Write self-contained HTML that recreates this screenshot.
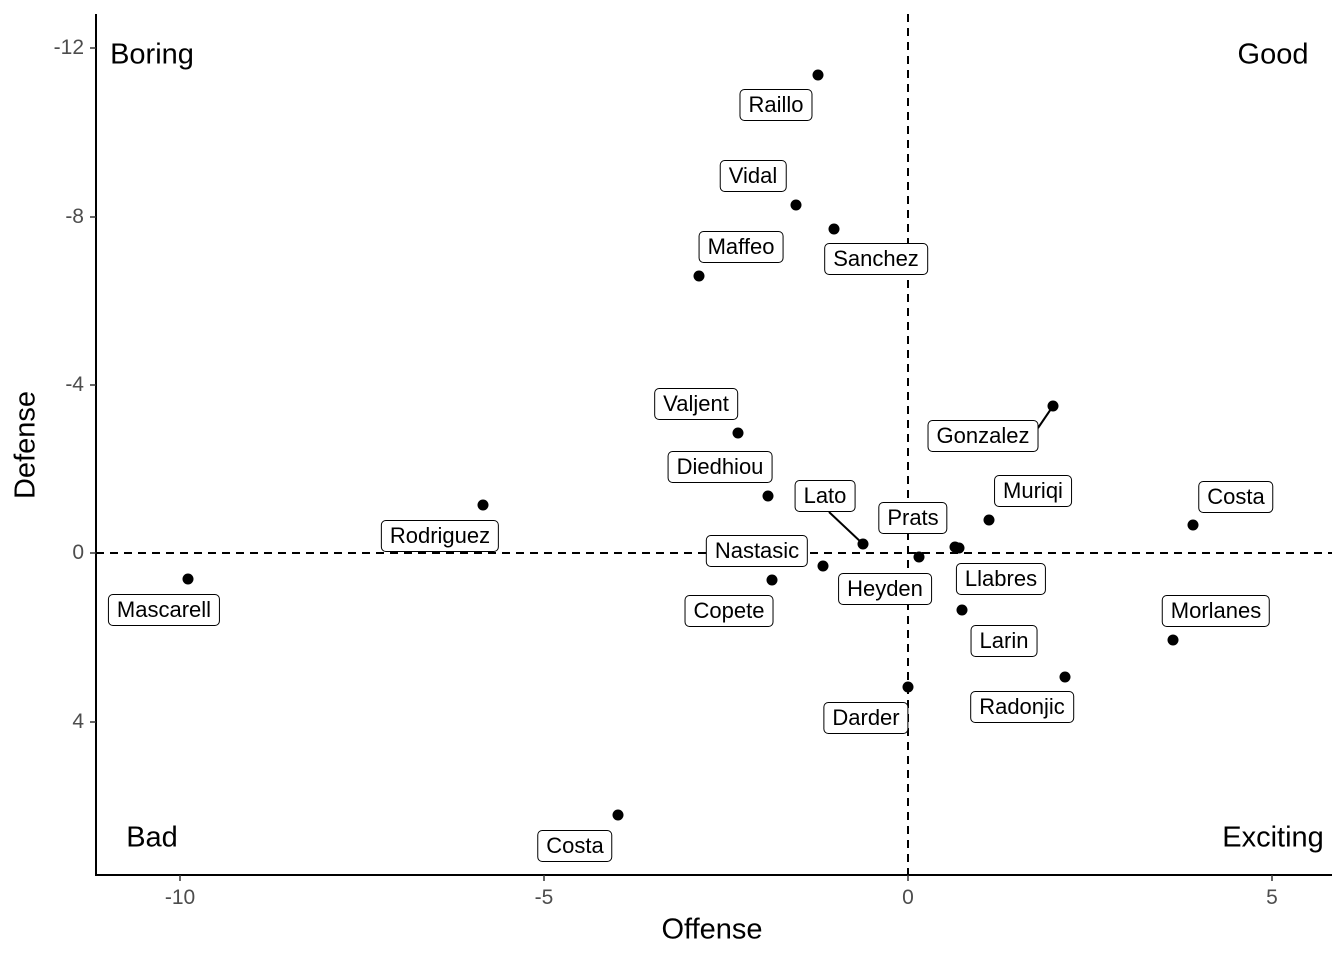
<!DOCTYPE html>
<html><head><style>
body{margin:0;width:1344px;height:960px;background:#fff;position:relative;font-family:"Liberation Sans",sans-serif;overflow:hidden}
.l{position:absolute;transform:translate(-50%,-50%);background:#fff;border:1.3px solid #000;border-radius:5px;padding:3px 8px;font-size:22px;line-height:24px;white-space:nowrap;color:#000}
.c{position:absolute;transform:translate(-50%,-50%);font-size:29px;white-space:nowrap}
.t{position:absolute;font-size:21px;color:#4d4d4d;transform:translate(-50%,-50%)}
.ty{position:absolute;font-size:21px;color:#4d4d4d;right:1260px;transform:translateY(-50%)}
</style></head><body>
<svg width="1344" height="960" style="position:absolute;left:0;top:0">
<line x1="96" y1="14" x2="96" y2="875" stroke="#000" stroke-width="2"/>
<line x1="95" y1="875" x2="1332" y2="875" stroke="#000" stroke-width="2"/>
<g stroke="#333" stroke-width="1.5">
<line x1="90" y1="48" x2="96" y2="48"/><line x1="90" y1="217" x2="96" y2="217"/><line x1="90" y1="385" x2="96" y2="385"/><line x1="90" y1="553" x2="96" y2="553"/><line x1="90" y1="722" x2="96" y2="722"/>
<line x1="180" y1="875" x2="180" y2="881"/><line x1="544" y1="875" x2="544" y2="881"/><line x1="908" y1="875" x2="908" y2="881"/><line x1="1272" y1="875" x2="1272" y2="881"/>
</g>
<line x1="908" y1="14" x2="908" y2="875" stroke="#000" stroke-width="2" stroke-dasharray="8,6"/>
<line x1="96" y1="553" x2="1332" y2="553" stroke="#000" stroke-width="2" stroke-dasharray="8,6"/>
<line x1="1053" y1="406" x2="1038" y2="428" stroke="#000" stroke-width="2"/>
<line x1="829" y1="512" x2="863" y2="544" stroke="#000" stroke-width="2"/>
<g fill="#000">
<circle cx="818" cy="75" r="5.5"/><circle cx="796" cy="205" r="5.5"/><circle cx="834" cy="229" r="5.5"/><circle cx="699" cy="276" r="5.5"/>
<circle cx="738" cy="433" r="5.5"/><circle cx="1053" cy="406" r="5.5"/><circle cx="768" cy="496" r="5.5"/><circle cx="863" cy="544" r="5.5"/>
<circle cx="919" cy="557" r="5.5"/><circle cx="955" cy="547" r="5.5"/><circle cx="959" cy="548" r="5.5"/><circle cx="989" cy="520" r="5.5"/>
<circle cx="1193" cy="525" r="5.5"/><circle cx="483" cy="505" r="5.5"/><circle cx="823" cy="566" r="5.5"/><circle cx="772" cy="580" r="5.5"/>
<circle cx="962" cy="610" r="5.5"/><circle cx="1173" cy="640" r="5.5"/><circle cx="1065" cy="677" r="5.5"/><circle cx="908" cy="687" r="5.5"/>
<circle cx="188" cy="579" r="5.5"/><circle cx="618" cy="815" r="5.5"/>
</g>
</svg>
<div class="l" style="left:776px;top:105px">Raillo</div>
<div class="l" style="left:753px;top:176px">Vidal</div>
<div class="l" style="left:876px;top:259px">Sanchez</div>
<div class="l" style="left:741px;top:247px">Maffeo</div>
<div class="l" style="left:696px;top:404px">Valjent</div>
<div class="l" style="left:983px;top:436px">Gonzalez</div>
<div class="l" style="left:720px;top:467px">Diedhiou</div>
<div class="l" style="left:825px;top:496px">Lato</div>
<div class="l" style="left:913px;top:518px">Prats</div>
<div class="l" style="left:1033px;top:491px">Muriqi</div>
<div class="l" style="left:1236px;top:497px">Costa</div>
<div class="l" style="left:440px;top:536px">Rodriguez</div>
<div class="l" style="left:757px;top:551px">Nastasic</div>
<div class="l" style="left:885px;top:589px">Heyden</div>
<div class="l" style="left:1001px;top:579px">Llabres</div>
<div class="l" style="left:729px;top:611px">Copete</div>
<div class="l" style="left:1004px;top:641px">Larin</div>
<div class="l" style="left:1216px;top:611px">Morlanes</div>
<div class="l" style="left:1022px;top:707px">Radonjic</div>
<div class="l" style="left:866px;top:718px">Darder</div>
<div class="l" style="left:164px;top:610px">Mascarell</div>
<div class="l" style="left:575px;top:846px">Costa</div>
<div class="c" style="left:152px;top:55px">Boring</div>
<div class="c" style="left:1273px;top:55px">Good</div>
<div class="c" style="left:152px;top:838px">Bad</div>
<div class="c" style="left:1273px;top:838px">Exciting</div>
<div class="ty" style="top:48px">-12</div>
<div class="ty" style="top:217px">-8</div>
<div class="ty" style="top:385px">-4</div>
<div class="ty" style="top:553px">0</div>
<div class="ty" style="top:722px">4</div>
<div class="t" style="left:180px;top:898px">-10</div>
<div class="t" style="left:544px;top:898px">-5</div>
<div class="t" style="left:908px;top:898px">0</div>
<div class="t" style="left:1272px;top:898px">5</div>
<div class="c" style="left:712px;top:930px">Offense</div>
<div class="c" style="left:26px;top:445px;transform:translate(-50%,-50%) rotate(-90deg)">Defense</div>
</body></html>
